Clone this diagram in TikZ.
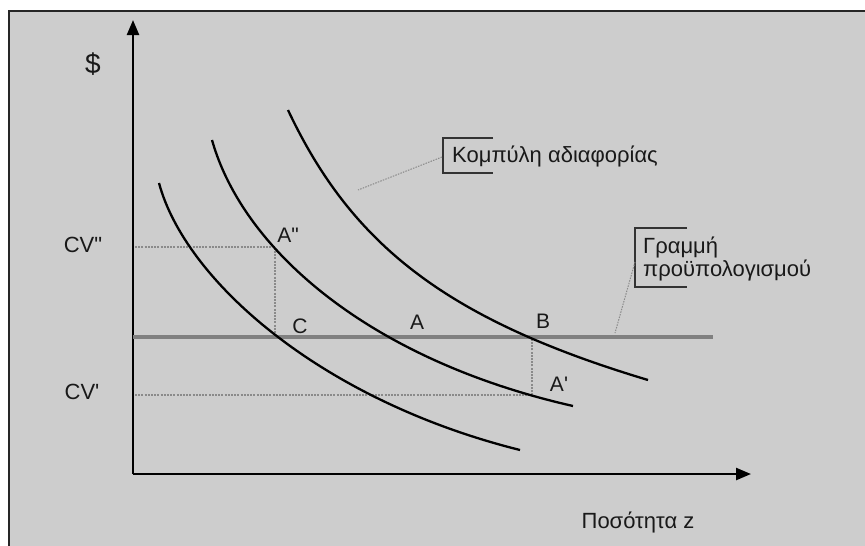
\documentclass[tikz,border=0pt]{standalone}
\usepackage{fontspec}
\setmainfont{Liberation Sans}
\newfontfamily\plainfont{Liberation Sans}
\usetikzlibrary{arrows.meta}
\definecolor{bggray}{HTML}{CDCDCD}
\definecolor{linegray}{HTML}{808080}
\definecolor{dotgray}{HTML}{8A8A8A}
\begin{document}
\begin{tikzpicture}[x=1pt,y=-1pt,
  axis/.style={line width=2.4pt,-{Triangle[length=15pt,width=12pt]}},
  curve/.style={line width=2.3pt,black},
  budget/.style={line width=3.6pt,linegray},
  guide/.style={line width=1.3pt,dotgray,dash pattern=on 2pt off 1.2pt},
  leader/.style={line width=1pt,dotgray,dash pattern=on 1.5pt off 1.2pt},
  bracket/.style={line width=1.6pt,black!80},
  lbl/.style={font=\plainfont\fontsize{22}{24}\selectfont,inner sep=0pt,text=black!90},
  pt/.style={font=\plainfont\fontsize{21}{23}\selectfont,inner sep=0pt,text=black!90}]
\useasboundingbox (0,0) rectangle (865,546);
\fill[white] (0,0) rectangle (865,546);
\draw[fill=bggray,line width=2pt,draw=black!85] (9,11) rectangle (900,580);
% axes
\coordinate (O) at (133,474);
\coordinate (Ytop) at (133,20);
\coordinate (Xend) at (751,474);
\draw[axis] (O) -- (Ytop);
\draw[axis] (O) -- (Xend);
\node[lbl,font=\plainfont\fontsize{28}{30}\selectfont] (dollar) at (93,64) {\$};
\node[lbl] (qty) at (638,522) {Ποσότητα z};
% key points
\coordinate (A2) at (275,247);
\coordinate (Cp) at (275,337);
\coordinate (Bp) at (532,337);
\coordinate (A1) at (532,395);
\coordinate (Y2) at (135,247);
\coordinate (Y1) at (135,395);
% guides
\draw[guide] (Y2) -- (A2) -- (Cp);
\draw[guide] (Y1) -- (A1) -- (Bp);
% budget line
\coordinate (Bstart) at (133,337);
\coordinate (Bend) at (713,337);
\draw[budget] (Bstart) -- (Bend);
% indifference curves
\coordinate (c1s) at (159,183); \coordinate (c1e) at (520,450);
\coordinate (c2s) at (212,140); \coordinate (c2e) at (573,406);
\coordinate (c3s) at (288,110); \coordinate (c3e) at (648,380);
\draw[curve] (c1s) .. controls (185,280) and (320,400) .. (c1e);
\draw[curve] (c2s) .. controls (243,250) and (370,360) .. (c2e);
\draw[curve] (c3s) .. controls (352,246) and (448,320) .. (c3e);
% labels
\node[lbl] (cv2) at (83,245) {CV"};
\node[lbl] (cv1) at (82,392) {CV'};
\node[pt] (lA2) at (288,235) {A"};
\node[pt] (lC) at (300,326) {C};
\node[pt] (lA) at (417,322) {A};
\node[pt] (lB) at (543,321) {B};
\node[pt] (lA1) at (559,384) {A'};
% callouts
\node[lbl,anchor=west] (ind) at (452,156) {Κομπύλη αδιαφορίας};
\draw[bracket] (493,138) -- (443,138) -- (443,173) -- (493,173);
\coordinate (indL) at (442,157);
\coordinate (indT) at (358,190);
\draw[leader] (indL) -- (indT);
\node[lbl,anchor=north west,align=left] (bud) at (643,237) {Γραμμή\\[-1pt]προϋπολογισμού};
\draw[bracket] (687,228) -- (635,228) -- (635,287) -- (687,287);
\coordinate (budL) at (635,262);
\coordinate (budT) at (615,333);
\draw[leader] (budL) -- (budT);
\end{tikzpicture}
\end{document}
